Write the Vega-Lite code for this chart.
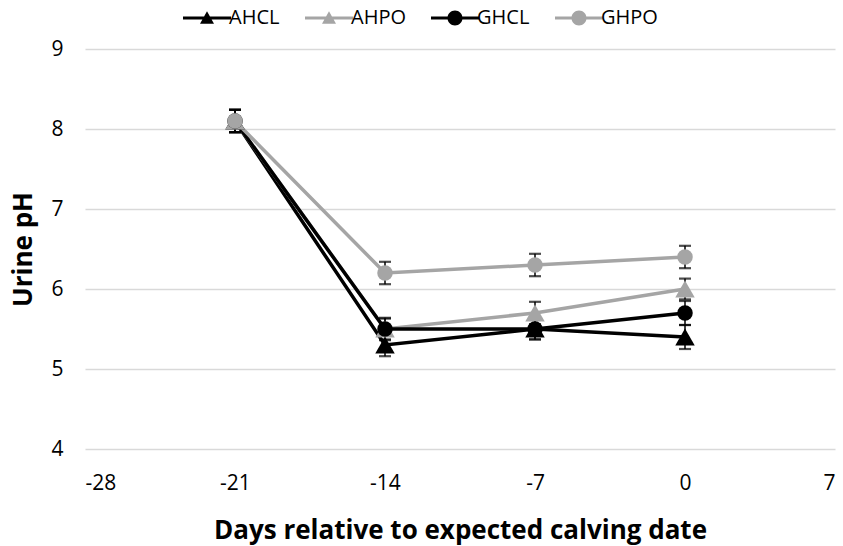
{
  "$schema": "https://vega.github.io/schema/vega-lite/v6.json",
  "width": 750,
  "height": 400,
  "autosize": {"type": "none"},
  "padding": {"left": 85, "top": 49, "right": 8, "bottom": 97},
  "background": "white",
  "config": {
    "view": {"stroke": null},
    "font": "Open Sans",
    "axis": {"labelFont": "Open Sans", "titleFont": "Open Sans", "labelColor": "#000", "titleColor": "#000"}
  },
  "data": {
    "values": [
      {"series": "AHCL", "day": -21, "ph": 8.1, "lower": 7.96, "upper": 8.24},
      {"series": "AHCL", "day": -14, "ph": 5.3, "lower": 5.16, "upper": 5.44},
      {"series": "AHCL", "day": -7, "ph": 5.5, "lower": 5.37, "upper": 5.63},
      {"series": "AHCL", "day": 0, "ph": 5.4, "lower": 5.25, "upper": 5.55},
      {"series": "AHPO", "day": -21, "ph": 8.1, "lower": 7.96, "upper": 8.24},
      {"series": "AHPO", "day": -14, "ph": 5.5, "lower": 5.37, "upper": 5.63},
      {"series": "AHPO", "day": -7, "ph": 5.7, "lower": 5.56, "upper": 5.84},
      {"series": "AHPO", "day": 0, "ph": 6.0, "lower": 5.87, "upper": 6.13},
      {"series": "GHCL", "day": -21, "ph": 8.1, "lower": 7.96, "upper": 8.24},
      {"series": "GHCL", "day": -14, "ph": 5.5, "lower": 5.36, "upper": 5.64},
      {"series": "GHCL", "day": -7, "ph": 5.5, "lower": 5.37, "upper": 5.63},
      {"series": "GHCL", "day": 0, "ph": 5.7, "lower": 5.55, "upper": 5.85},
      {"series": "GHPO", "day": -21, "ph": 8.1, "lower": 7.96, "upper": 8.24},
      {"series": "GHPO", "day": -14, "ph": 6.2, "lower": 6.06, "upper": 6.34},
      {"series": "GHPO", "day": -7, "ph": 6.3, "lower": 6.16, "upper": 6.44},
      {"series": "GHPO", "day": 0, "ph": 6.4, "lower": 6.26, "upper": 6.54}
    ]
  },
  "layer": [
    {
      "mark": {"type": "line", "strokeWidth": 3.5},
      "encoding": {
        "x": {"field": "day", "type": "quantitative", "scale": {"domain": [-28, 7], "nice": false, "zero": false},
          "axis": {"values": [-28, -21, -14, -7, 0, 7], "labelExpr": "'' + datum.value", "grid": false, "domain": false, "ticks": false, "labelFontSize": 21, "labelPadding": 23, "title": "Days relative to expected calving date", "titleFontSize": 26, "titleFontWeight": "bold", "titleBaseline": "alphabetic", "titleY": 89, "titleX": 375}},
        "y": {"field": "ph", "type": "quantitative", "scale": {"domain": [4, 9], "nice": false, "zero": false},
          "axis": {"values": [4, 5, 6, 7, 8, 9], "labelExpr": "'' + datum.value", "grid": true, "gridColor": "#D9D9D9", "gridWidth": 1.5, "domain": false, "ticks": false, "labelFontSize": 21, "labelPadding": 22, "title": "Urine pH", "titleFontSize": 26, "titleFontWeight": "bold", "titleBaseline": "alphabetic", "titleX": -54, "titleY": 200}},
        "stroke": {"field": "series", "type": "nominal", "scale": {"range": ["#000000", "#A5A5A5", "#000000", "#A5A5A5"]}, "legend": null},
        "order": {"field": "day", "type": "quantitative"}
      }
    },
    {
      "mark": {"type": "errorbar", "ticks": {"size": 12, "thickness": 2.2, "color": "#000000"}, "rule": {"strokeWidth": 1.5, "color": "#000000"}, "color": "#000000"},
      "encoding": {
        "x": {"field": "day", "type": "quantitative"},
        "y": {"field": "lower", "type": "quantitative", "title": "Urine pH"},
        "y2": {"field": "upper"}
      }
    },
    {
      "transform": [{"filter": "datum.series == 'AHCL' || datum.series == 'AHPO'"}],
      "mark": {"type": "point", "filled": true, "shape": "triangle-up", "size": 380, "opacity": 1, "strokeWidth": 0},
      "encoding": {
        "x": {"field": "day", "type": "quantitative"},
        "y": {"field": "ph", "type": "quantitative", "title": "Urine pH"},
        "fill": {"field": "series", "type": "nominal", "scale": {"range": ["#000000", "#A5A5A5", "#000000", "#A5A5A5"]}, "legend": null}
      }
    },
    {
      "transform": [{"filter": "datum.series == 'GHCL' || datum.series == 'GHPO'"}],
      "mark": {"type": "point", "filled": true, "shape": "circle", "size": 240, "opacity": 1, "strokeWidth": 0},
      "encoding": {
        "x": {"field": "day", "type": "quantitative"},
        "y": {"field": "ph", "type": "quantitative", "title": "Urine pH"},
        "fill": {"field": "series", "type": "nominal", "scale": {"range": ["#000000", "#A5A5A5", "#000000", "#A5A5A5"]}, "legend": null}
      }
    },
    {
      "transform": [{"filter": "datum.ph > 100"}],
      "mark": {"type": "point", "filled": true, "opacity": 1},
      "encoding": {
        "x": {"field": "day", "type": "quantitative"},
        "y": {"field": "ph", "type": "quantitative", "title": "Urine pH"},
        "color": {"field": "series", "type": "nominal",
          "scale": {"domain": ["AHCL", "AHPO", "GHCL", "GHPO"], "range": ["#000000", "#A5A5A5", "#000000", "#A5A5A5"]},
          "legend": {"orient": "none", "legendX": 93, "legendY": -41, "direction": "horizontal", "title": null, "padding": 0, "symbolSize": 100, "symbolOffset": 19, "symbolStrokeWidth": 0, "symbolOpacity": 1, "labelOffset": 12, "columnPadding": 20, "labelFont": "Open Sans", "labelFontSize": 20, "labelColor": "#000"}},
        "shape": {"field": "series", "type": "nominal",
          "scale": {"domain": ["AHCL", "AHPO", "GHCL", "GHPO"], "range": [
            "M-4.8,-0.3H4.8V0.3H-4.8Z M0,-1.35L1.4,1.15L-1.4,1.15Z",
            "M-4.8,-0.3H4.8V0.3H-4.8Z M0,-1.35L1.4,1.15L-1.4,1.15Z",
            "M-4.8,-0.3H4.8V0.3H-4.8Z M-1.5,0A1.5,1.5,0,1,1,1.5,0A1.5,1.5,0,1,1,-1.5,0Z",
            "M-4.8,-0.3H4.8V0.3H-4.8Z M-1.5,0A1.5,1.5,0,1,1,1.5,0A1.5,1.5,0,1,1,-1.5,0Z"
          ]},
          "legend": {"orient": "none", "legendX": 93, "legendY": -41, "direction": "horizontal", "title": null, "padding": 0, "symbolSize": 100, "symbolOffset": 19, "symbolStrokeWidth": 0, "symbolOpacity": 1, "labelOffset": 12, "columnPadding": 20, "labelFont": "Open Sans", "labelFontSize": 20, "labelColor": "#000"}}
      }
    }
  ]
}
